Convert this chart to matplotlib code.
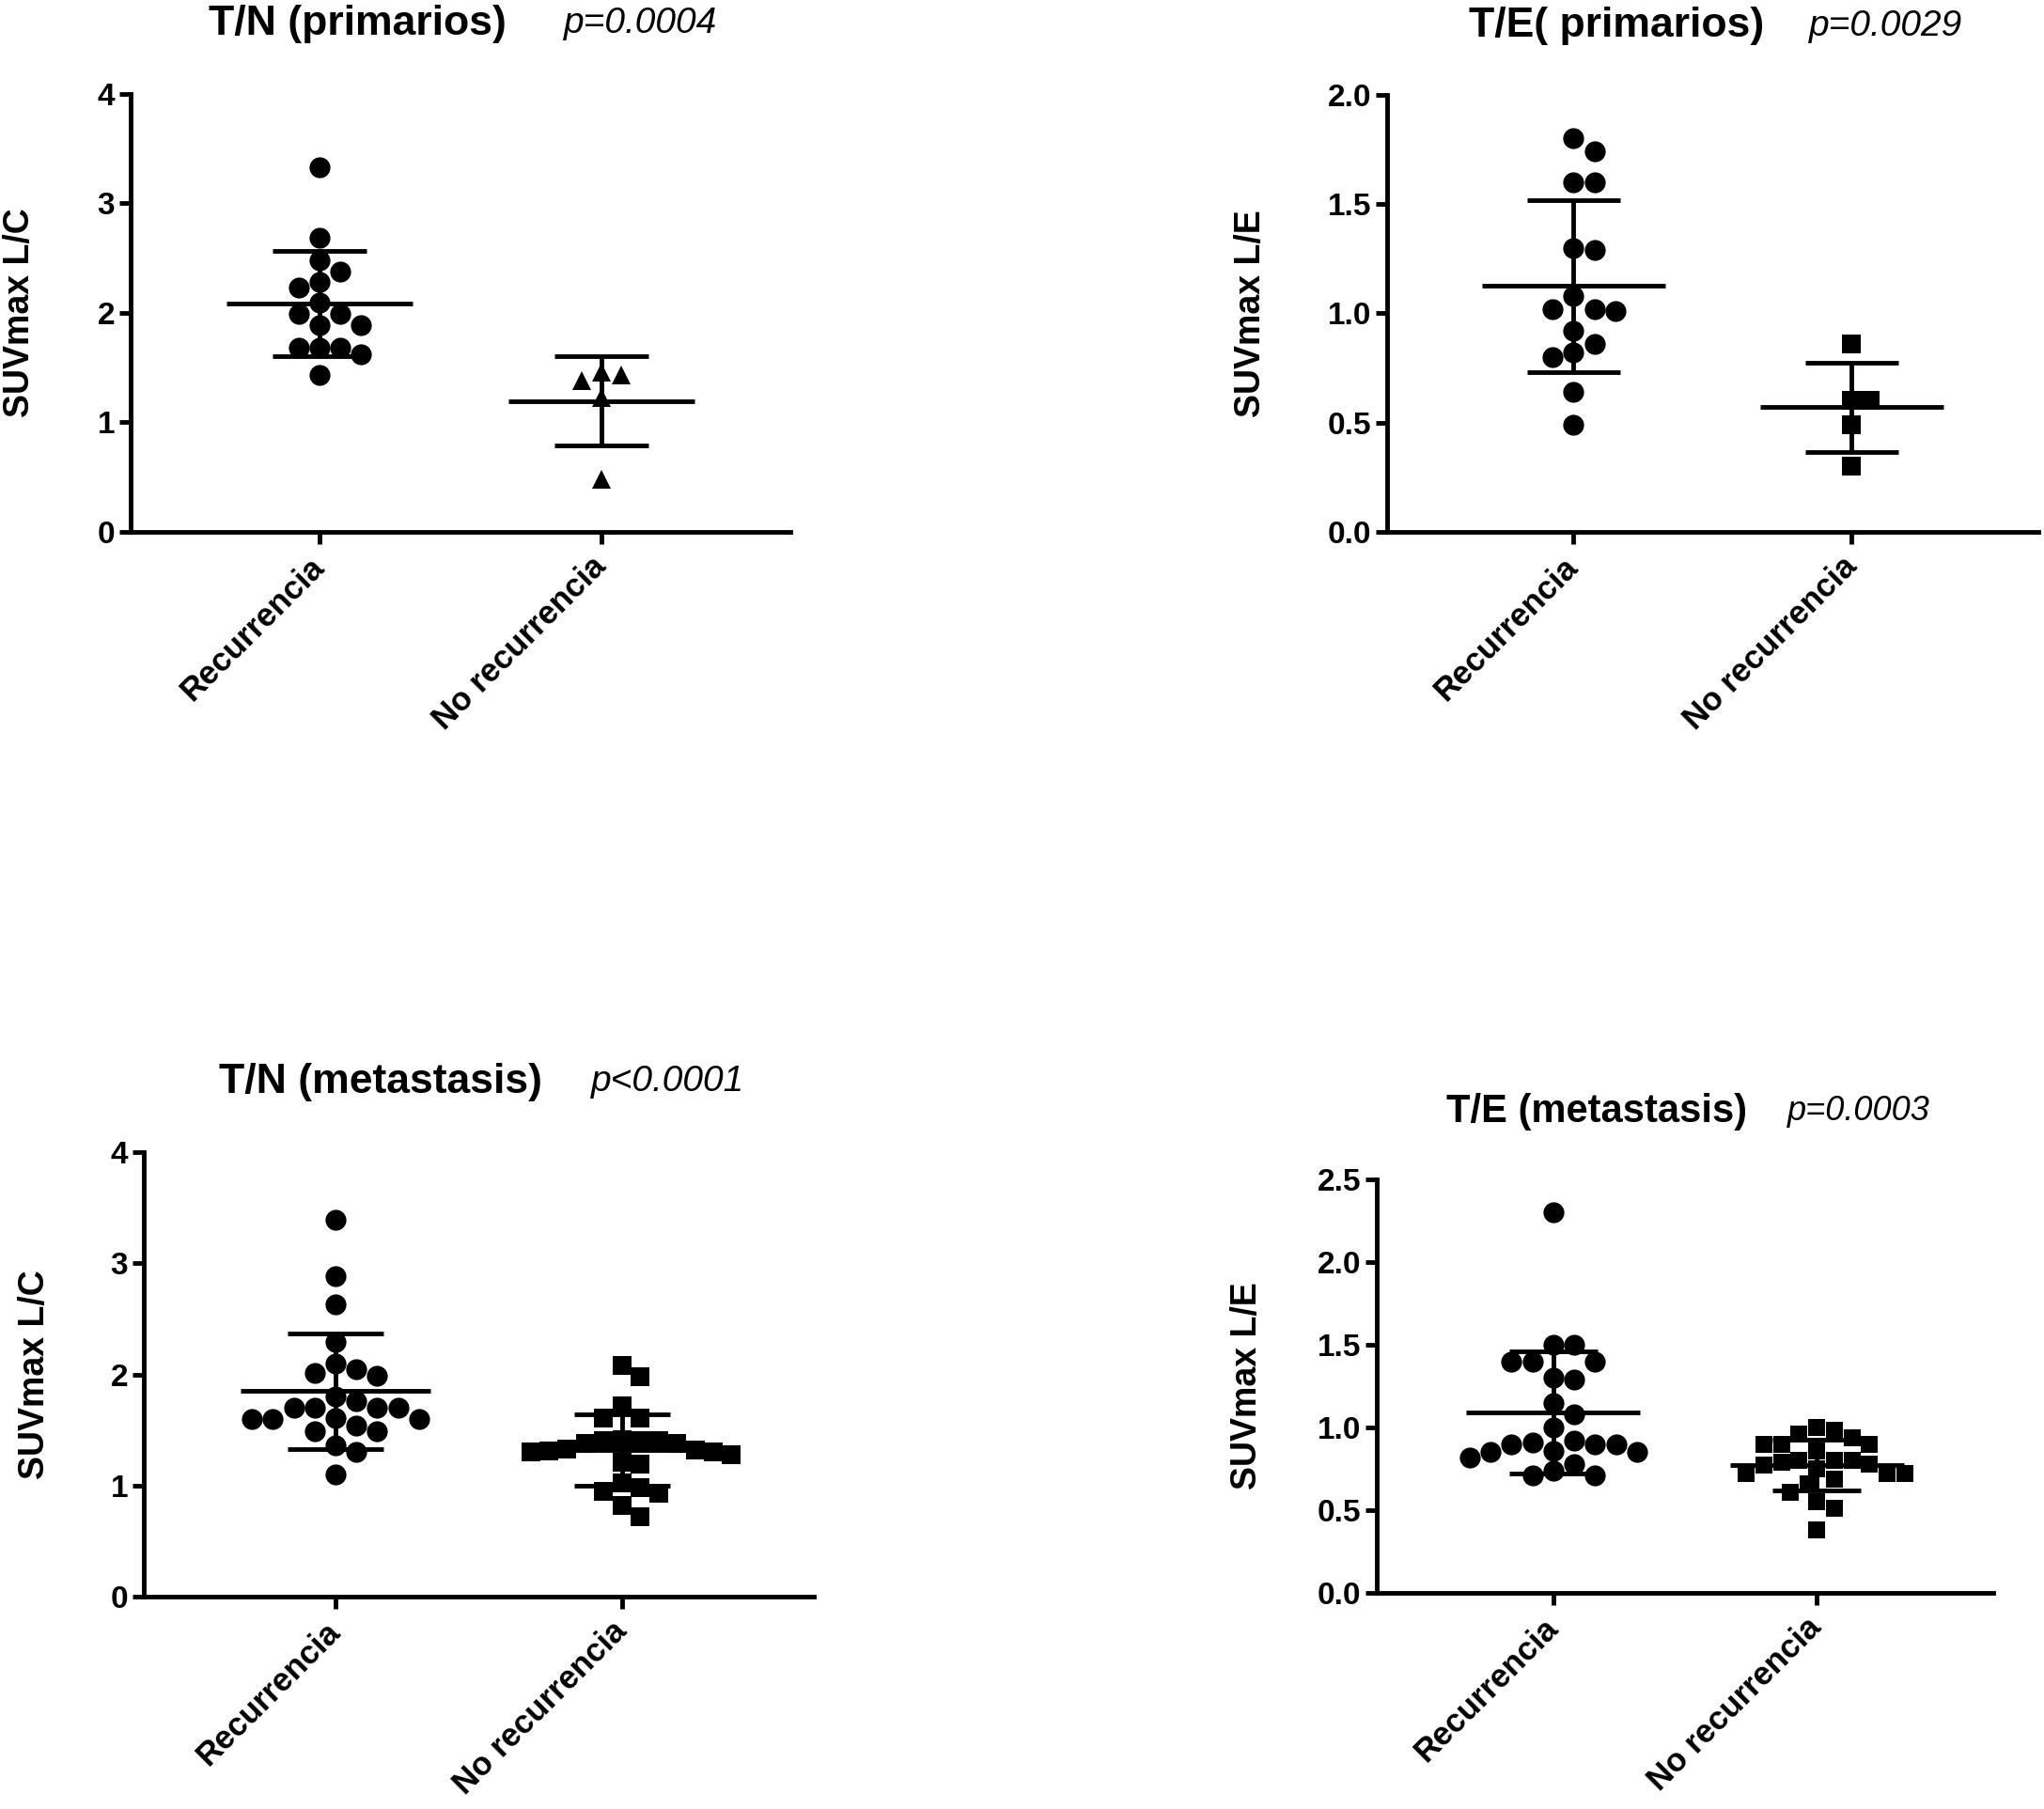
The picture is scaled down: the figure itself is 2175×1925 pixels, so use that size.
import matplotlib
matplotlib.use("Agg")
import matplotlib.pyplot as plt
import numpy as np

plt.rcParams['font.family'] = ['Liberation Sans', 'DejaVu Sans']

W, H = 2175, 1925
groups = ["Recurrencia", "No recurrencia"]

# T/N (primarios)
tn_prim_rec = [3.33, 2.69, 2.48, 2.38, 2.28, 2.23, 2.09, 1.99, 1.99, 1.89, 1.89,
               1.68, 1.68, 1.68, 1.62, 1.43]
tn_prim_norec = [1.46, 1.38, 1.23, 1.43, 0.48]

# T/E (primarios)
te_prim_rec = [1.80, 1.74, 1.60, 1.60, 1.30, 1.29, 1.08, 1.02, 1.01, 1.02, 0.92,
               0.86, 0.82, 0.80, 0.64, 0.49]
te_prim_norec = [0.86, 0.60, 0.60, 0.49, 0.30]

# T/N (metastasis)
tn_met_rec = [3.39, 2.88, 2.63, 2.29, 2.10, 2.01, 1.99, 2.05, 1.80, 1.76, 1.70,
              1.70, 1.70, 1.70, 1.60, 1.60, 1.61, 1.60, 1.54, 1.49, 1.49, 1.36,
              1.30, 1.10]
tn_met_norec = [2.08, 1.98, 1.72, 1.61, 1.61, 1.41, 1.40, 1.38, 1.38, 1.40, 1.40,
                1.33, 1.32, 1.30, 1.28, 1.31, 1.30, 1.21, 1.19, 1.02, 0.98, 0.95,
                0.93, 0.82, 0.72]

# T/E (metastasis)
te_met_rec = [2.30, 1.50, 1.50, 1.40, 1.40, 1.40, 1.30, 1.29, 1.15, 1.08, 1.00,
              0.91, 0.90, 0.92, 0.90, 0.90, 0.85, 0.86, 0.85, 0.82, 0.78, 0.74,
              0.71, 0.71]
te_met_norec = [1.00, 0.96, 0.90, 0.90, 0.86, 0.90, 0.94, 0.98, 0.80, 0.77, 0.80,
                0.80, 0.79, 0.69, 0.72, 0.72, 0.72, 0.66, 0.61, 0.55, 0.51, 0.38,
                0.75, 0.78]

fig = plt.figure(figsize=(W / 100, H / 100), dpi=100)


def swarm(vals, ax, diam):
    # simple beeswarm layout in pixel space
    bb = ax.get_position()
    x0, x1 = ax.get_xlim()
    y0, y1 = ax.get_ylim()
    sx = bb.width * W / (x1 - x0)
    sy = bb.height * H / (y1 - y0)
    vals = np.asarray(vals)
    res = np.zeros(len(vals))
    placed = []
    cands = [0] + [s * j for j in range(1, 40) for s in (1, -1)]
    for i in np.argsort(-vals, kind="stable"):
        yv = vals[i] * sy
        for c in cands:
            xo = c * diam * 0.5
            if all((xo - px) ** 2 + (yv - py) ** 2 >= (0.95 * diam) ** 2 for px, py in placed):
                break
        placed.append((xo, yv))
        res[i] = xo / sx
    return res


def panel(rect, rec, norec, mk2, ms2, ytop, yticks, fmt, title, pval, tpos, ppos, tsize, psize, ylabel, ylx):
    ax = fig.add_axes(rect)
    ax.set_xlim(0.33, 2.67)
    ax.set_ylim(0, ytop)
    for xpos, vals, mk, ms in ((1, rec, 'o', 16), (2, norec, mk2, ms2)):
        off = swarm(vals, ax, ms * 100 / 72)
        ax.plot(xpos + off, vals, ls='none', marker=mk, ms=ms, color='black', mew=0, zorder=3)
        m = np.mean(vals)
        sd = np.std(vals, ddof=1)
        ax.hlines(m, xpos - 0.33, xpos + 0.33, color='black', lw=3.5, zorder=4)
        ax.hlines([m - sd, m + sd], xpos - 0.167, xpos + 0.167, color='black', lw=3.5, zorder=4)
        ax.vlines(xpos, m - sd, m + sd, color='black', lw=3.5, zorder=4)
    for s in ['top', 'right']:
        ax.spines[s].set_visible(False)
    for s in ['left', 'bottom']:
        ax.spines[s].set_linewidth(3.5)
    ax.set_yticks(yticks)
    ax.set_yticklabels([fmt.format(v) for v in yticks], fontsize=24, fontweight='bold')
    ax.set_xticks([1, 2])
    ax.set_xticklabels(groups, fontsize=25, fontweight='bold', rotation=45,
                       ha='right', va='center', rotation_mode='anchor')
    ax.tick_params(axis='both', direction='out', length=9, width=3.5)
    ax.tick_params(axis='y', pad=3)
    ax.tick_params(axis='x', pad=14)
    fig.text(tpos[0], tpos[1], title, fontsize=tsize, fontweight='bold', ha='center', va='center')
    fig.text(ppos[0], ppos[1], pval, fontsize=psize, style='italic', ha='left', va='center')
    fig.text(ylx, rect[1] + rect[3] / 2, ylabel, fontsize=27, fontweight='bold',
             rotation=90, ha='center', va='center')
    return ax


panel([0.0639, 0.7060, 0.3228, 0.2421], tn_prim_rec, tn_prim_norec, '^', 15,
      4, [0, 1, 2, 3, 4], "{:.0f}", "T/N (primarios)", "p=0.0004",
      (0.175, 0.987), (0.276, 0.987), 32, 28, "SUVmax L/C", 0.0097)

panel([0.6786, 0.7060, 0.3186, 0.2416], te_prim_rec, te_prim_norec, 's', 14,
      2, [0, 0.5, 1.0, 1.5, 2.0], "{:.1f}", "T/E( primarios)", "p=0.0029",
      (0.791, 0.9855), (0.885, 0.9855), 32, 28, "SUVmax L/E", 0.612)

panel([0.0703, 0.1174, 0.3278, 0.2457], tn_met_rec, tn_met_norec, 's', 14,
      4, [0, 1, 2, 3, 4], "{:.0f}", "T/N (metastasis)", "p<0.0001",
      (0.186, 0.402), (0.289, 0.402), 32, 28, "SUVmax L/C", 0.017)

panel([0.6736, 0.1195, 0.3016, 0.2286], te_met_rec, te_met_norec, 's', 13.5,
      2.5, [0, 0.5, 1.0, 1.5, 2.0, 2.5], "{:.1f}", "T/E (metastasis)", "p=0.0003",
      (0.781, 0.3855), (0.8745, 0.3855), 30, 26, "SUVmax L/E", 0.610)

fig.savefig("out.png", dpi=100)
